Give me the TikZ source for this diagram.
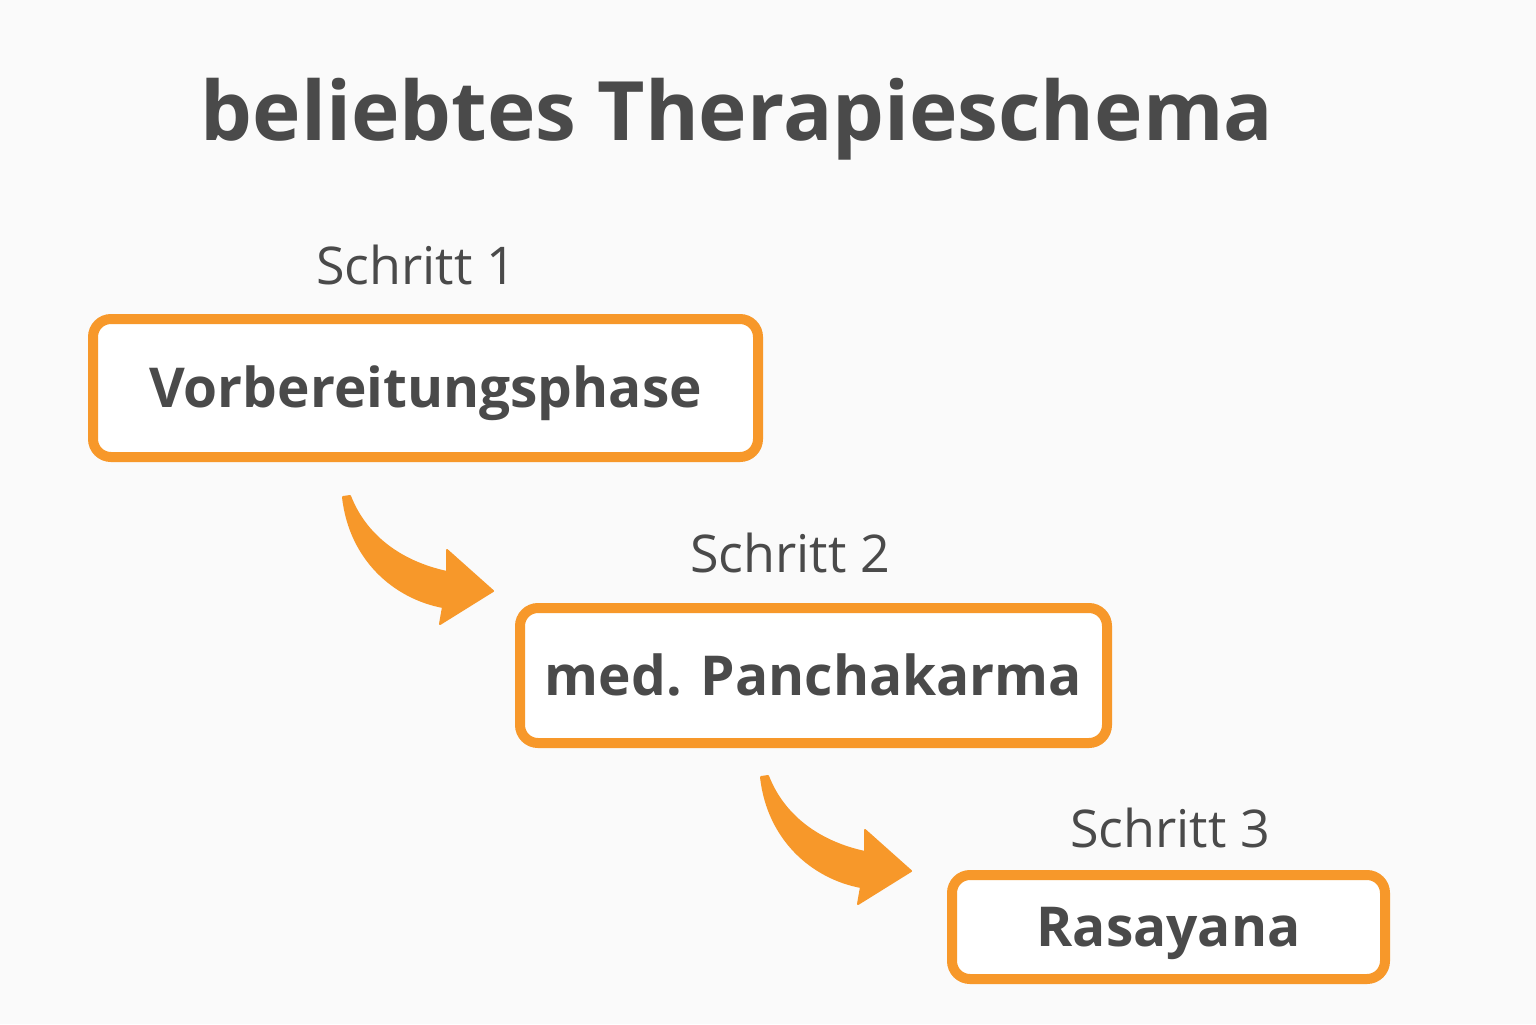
\documentclass[tikz,border=0pt]{standalone}
\usepackage{fontspec}
\setmainfont{Open Sans}
\usepackage{xcolor}
\definecolor{schemaorange}{HTML}{F7982A}
\definecolor{schemagray}{HTML}{4A4A4A}
\definecolor{schemabg}{HTML}{FAFAFA}
\tikzset{
  phasebox/.style={draw=schemaorange, line width=5pt, fill=white, rounded corners=9pt,
    text=schemagray, font=\fontsize{27.5}{32}\selectfont\bfseries, inner sep=0pt,
    text height=26.5pt, text depth=7pt},
  steplabel/.style={text=schemagray, font=\fontsize{26}{31}\selectfont},
  bendarrow/.style={fill=schemaorange, draw=schemaorange, line width=1pt, line join=round}
}
\newcommand{\bendarrowshape}{%
  (343,497) .. controls (350,560) and (395,598) .. (443,607)
  -- (440,624) -- (493,591) -- (447,550) -- (447,572)
  .. controls (400,562) and (365,535) .. (350,496) -- cycle}
\begin{document}
\begin{tikzpicture}[x=0.5pt, y=-0.5pt]
    \fill[schemabg] (0,0) rectangle (1536,1024);
    \useasboundingbox (0,0) rectangle (1536,1024);
    % Title
    \node[text=schemagray, font=\fontsize{41}{48}\selectfont\bfseries] (title) at (737,119) {beliebtes Therapieschema};
    % Steps
    \node[steplabel] (label1) at (416,265) {Schritt 1};
    \node[phasebox, minimum width=332.5pt, minimum height=69pt] (phase1) at (425.5,388) {Vorbereitungsphase};
    \node[steplabel] (label2) at (790,553) {Schritt 2};
    \node[phasebox, minimum width=293.5pt, minimum height=67.5pt] (phase2) at (813.5,675.5) {med. Panchakarma};
    \node[steplabel] (label3) at (1170,828) {Schritt 3};
    \node[phasebox, minimum width=216.5pt, minimum height=52pt] (phase3) at (1168.5,927) {Rasayana};
    % Arrows
    \draw[bendarrow] \bendarrowshape;
    \draw[bendarrow, shift={(418,280)}] \bendarrowshape;
\end{tikzpicture}
\end{document}
